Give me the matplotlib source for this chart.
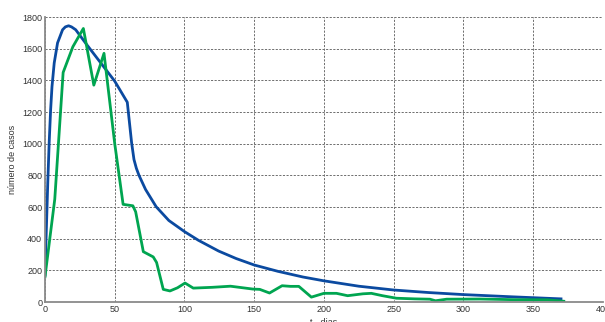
import matplotlib
matplotlib.use('Agg')
import matplotlib.pyplot as plt

# curva azul (modelo)
t_modelo = [0, 0.5, 1, 2, 3, 4, 5, 6.6, 9, 12.6, 14.6, 16.9, 19, 22, 30, 40, 50, 59, 62.1, 63.8, 65.5, 67.4, 72.1,
            79.7, 88.8, 100, 110, 124.5, 137, 150, 167, 185, 200, 225, 250, 275, 300, 335, 370]
casos_modelo = [170, 330, 470, 760, 1010, 1210, 1360, 1510, 1637, 1720, 1738, 1745, 1738, 1720, 1625, 1510, 1395, 1262, 1006, 900, 845, 800, 711,
                602, 515, 445, 390, 322, 275, 234, 194, 158, 134, 100, 76, 60, 47, 33, 20]

# curva verde (dados)
t_dados = [0, 7, 13, 20, 27.5, 35, 42.3, 50, 56, 63, 65, 70.5, 77.6, 80, 84.8, 89.6, 95, 100.4, 106.3, 120,
           133, 149, 154, 161, 170, 176, 182, 191, 200, 209, 217, 228, 234, 242, 252, 265, 276, 280,
           288, 312, 336, 360, 372]
casos_dados = [160, 650, 1450, 1613, 1728, 1370, 1571, 1000, 617, 608, 570, 318, 285, 250, 80, 70, 90, 120, 88, 93,
               100, 82, 80, 57, 103, 99, 99, 31, 55, 55, 40, 52, 55, 40, 24, 20, 18, 8,
               18, 19, 15, 14, 5]

plt.rcParams['font.family'] = ['Liberation Sans', 'DejaVu Sans']

fig = plt.figure(figsize=(6.05, 3.22), dpi=100)
ax = fig.add_axes([0.0744, 0.062, 0.922, 0.885])

ax.plot(t_modelo, casos_modelo, color='#0b4aa0', linewidth=2.0, solid_joinstyle='round')
ax.plot(t_dados, casos_dados, color='#00a550', linewidth=2.0, solid_joinstyle='round')

ax.set_xlim(0, 400)
ax.set_ylim(0, 1800)
ax.set_xticks(range(0, 401, 50))
ax.set_yticks(range(0, 1801, 200))
ax.grid(True, linestyle=(0, (2.2, 1.5)), color='#6e6e6e', linewidth=0.7)
ax.set_axisbelow(True)

for s in ['top', 'right']:
    ax.spines[s].set_visible(False)
for s in ['left', 'bottom']:
    ax.spines[s].set_color('#8a8a8a')
    ax.spines[s].set_linewidth(1.3)

ax.tick_params(length=0, pad=2, labelsize=6.5, colors='#333333')
ax.set_xlabel('t - dias', fontsize=6.5, color='#333333', labelpad=3)
ax.set_ylabel('número de casos', fontsize=6.5, color='#333333', labelpad=4)

fig.savefig('out.png', dpi=100)
